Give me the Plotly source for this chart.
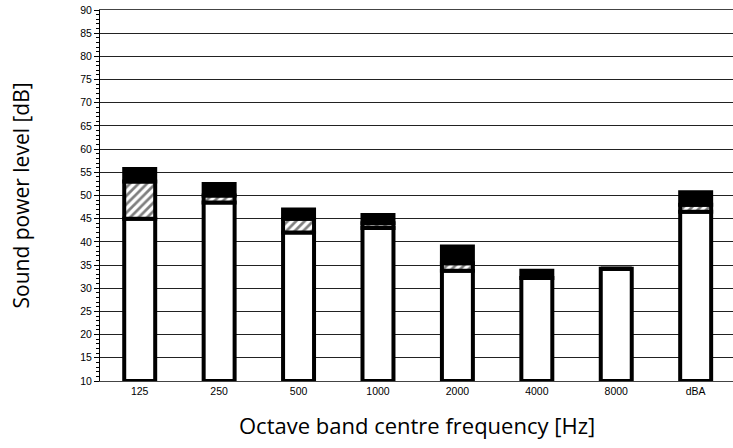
import plotly.graph_objects as go

categories = ["125", "250", "500", "1000", "2000", "4000", "8000", "dBA"]
white_top = [45.0, 48.5, 42.0, 43.0, 33.8, 32.2, 34.2, 46.5]
hatch_top = [53.0, 50.0, 45.0, 44.0, 35.4, 32.2, 34.2, 48.0]
total_top = [55.7, 52.5, 47.0, 45.8, 39.0, 33.8, 34.2, 50.7]
y_floor = 10

x_idx = list(range(len(categories)))
bar_w = 0.39
line = dict(color="black", width=4)

fig = go.Figure()
fig.add_trace(go.Bar(
    x=x_idx, y=[w - y_floor for w in white_top], base=[y_floor] * len(categories),
    width=bar_w, marker=dict(color="white", line=line), showlegend=False,
))
fig.add_trace(go.Bar(
    x=x_idx, y=[h - w for h, w in zip(hatch_top, white_top)], base=white_top,
    width=bar_w,
    marker=dict(color="white", line=line,
                pattern=dict(shape="/", fgcolor="black", bgcolor="white", size=6, solidity=0.45)),
    showlegend=False,
))
fig.add_trace(go.Bar(
    x=x_idx, y=[t - h for t, h in zip(total_top, hatch_top)], base=hatch_top,
    width=bar_w, marker=dict(color="black", line=line), showlegend=False,
))

fig.update_layout(
    width=733, height=448,
    margin=dict(l=100, r=0, t=10, b=67),
    barmode="overlay",
    plot_bgcolor="white", paper_bgcolor="white",
    font=dict(family="Liberation Sans", size=10, color="black"),
    annotations=[
        dict(text="Octave band centre frequency [Hz]", xref="paper", yref="paper",
             x=0.5, y=0, yshift=-44, xanchor="center", yanchor="middle", showarrow=False,
             font=dict(family="Open Sans", size=22, color="black")),
        dict(text="Sound power level [dB]", xref="paper", yref="paper",
             x=0, y=0.5, xshift=-80, xanchor="center", yanchor="middle", showarrow=False,
             textangle=-90, font=dict(family="Open Sans", size=21, color="black")),
    ],
)
fig.update_xaxes(
    range=[-0.5, 7.47], tickmode="array", tickvals=x_idx, ticktext=categories,
    showline=True, linecolor="#444", linewidth=1, mirror=True, showgrid=False, ticks="",
    tickfont=dict(family="Liberation Sans", size=10.5), automargin=False,
)
fig.update_yaxes(
    range=[10, 90], dtick=5, tick0=10,
    showline=True, linecolor="black", linewidth=1,
    showgrid=True, gridcolor="#222", gridwidth=1,
    ticks="outside", ticklen=5, tickcolor="black",
    minor=dict(dtick=1, ticks="outside", ticklen=3, tickcolor="black", showgrid=False),
    tickfont=dict(family="Liberation Sans", size=10.5), automargin=False,
    ticklabeloverflow="allow",
    zeroline=False,
)

fig.write_html("out.html", config={"displayModeBar": False},
               post_script="document.body.style.margin='0';")
